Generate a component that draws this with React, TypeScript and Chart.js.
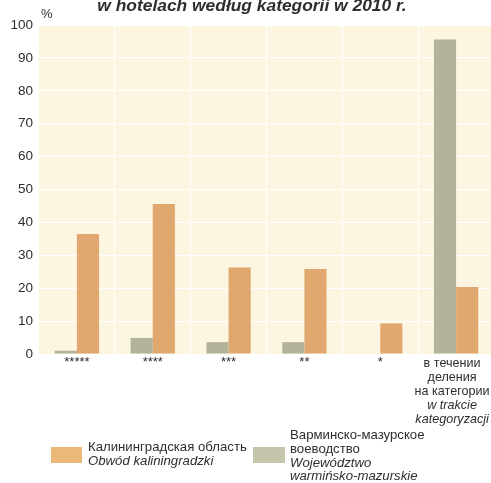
import { useEffect, useRef } from 'react';
import { Chart, registerables } from 'chart.js';

Chart.register(...registerables);

// ---- data ----
const categories: string[][] = [
  ['*****'],
  ['****'],
  ['***'],
  ['**'],
  ['*'],
  ['в течении', 'деления', 'на категории', 'w trakcie', 'kategoryzacji'],
];
const categoryItalicFrom: number[] = [99, 99, 99, 99, 99, 3];
const warmiaValues: number[] = [1.0, 4.9, 3.6, 3.6, 0, 95.6];
const kaliningradValues: number[] = [36.5, 45.6, 26.3, 25.8, 9.3, 20.4];
const kaliningradName: string[] = ['Калининградская область', 'Obwód kaliningradzki'];
const kaliningradItalicFrom = 1;
const warmiaName: string[] = ['Варминско-мазурское', 'воеводство', 'Województwo', 'warmińsko-mazurskie'];
const warmiaItalicFrom = 2;
const titleText = 'w hotelach według kategorii w 2010 r.';
const unitLabel = '%';
const yMin = 0;
const yMax = 100;
const yStep = 10;

// ---- styles ----
const FONT = '"Liberation Sans", Arial, sans-serif';
const TEXT = '#2e2e2e';
const ORANGE = '#e0a86e';
const GREY = '#b3b399';
const ORANGE_SW = '#ebb877';
const GREY_SW = '#c5c5ab';
const CREAM = '#fcf5e0';
const W = 494;
const H = 483;

export default function App() {
  const ref = useRef<HTMLCanvasElement | null>(null);

  useEffect(() => {
    if (!ref.current) return;
    const deco = {
      id: 'deco',
      beforeDraw(chart: any) {
        const { ctx, chartArea } = chart;
        ctx.save();
        ctx.fillStyle = CREAM;
        ctx.fillRect(chartArea.left, chartArea.top, chartArea.right - chartArea.left, chartArea.bottom - chartArea.top);
        ctx.restore();
      },
      afterDraw(chart: any) {
        const { ctx } = chart;
        const xs = chart.scales.x;
        ctx.save();
        ctx.fillStyle = TEXT;
        // title (partly cut by top edge)
        ctx.font = `italic bold 17.4px ${FONT}`;
        ctx.textAlign = 'center';
        ctx.textBaseline = 'alphabetic';
        ctx.fillText(titleText, 252, 11);
        // unit
        ctx.font = `13px ${FONT}`;
        ctx.textAlign = 'left';
        ctx.fillText(unitLabel, 41, 18);
        // multi-line category labels
        ctx.textAlign = 'center';
        categories.forEach((lines, i) => {
          if (lines.length < 2) return;
          const cx = xs.getPixelForValue(i) - 4;
          lines.forEach((ln, j) => {
            ctx.font = `${j >= categoryItalicFrom[i] ? 'italic ' : ''}12.6px ${FONT}`;
            ctx.fillText(ln, cx, 366.7 + j * 14.15);
          });
        });
        // legend
        ctx.textAlign = 'left';
        ctx.fillStyle = ORANGE_SW;
        ctx.fillRect(51, 447, 31, 16);
        ctx.fillStyle = GREY_SW;
        ctx.fillRect(253, 447, 32, 16);
        ctx.fillStyle = TEXT;
        kaliningradName.forEach((ln, j) => {
          ctx.font = `${j >= kaliningradItalicFrom ? 'italic ' : ''}13.2px ${FONT}`;
          ctx.fillText(ln, 88, 451 + j * 14);
        });
        warmiaName.forEach((ln, j) => {
          ctx.font = `${j >= warmiaItalicFrom ? 'italic ' : ''}13.2px ${FONT}`;
          ctx.fillText(ln, 290, 439 + j * 13.8);
        });
        ctx.restore();
      },
    };

    const chart = new Chart(ref.current, {
      type: 'bar',
      data: {
        labels: categories.map((c) => c.join(' ')),
        datasets: [
          {
            label: warmiaName.join(' '),
            data: warmiaValues,
            backgroundColor: GREY,
            borderWidth: 0,
            barPercentage: 1,
            categoryPercentage: 0.584,
          },
          {
            label: kaliningradName.join(' '),
            data: kaliningradValues,
            backgroundColor: ORANGE,
            borderWidth: 0,
            barPercentage: 1,
            categoryPercentage: 0.584,
          },
        ],
      },
      options: {
        responsive: false,
        animation: false,
        layout: { padding: { top: 25, left: 0, right: 0, bottom: 0 } },
        plugins: { legend: { display: false }, tooltip: { enabled: false }, title: { display: false } },
        scales: {
          x: {
            offset: true,
            grid: { color: '#ffffff', lineWidth: 1, drawTicks: false, offset: true },
            border: { display: false },
            ticks: {
              autoSkip: false,
              maxRotation: 0,
              padding: 1,
              color: TEXT,
              font: { family: FONT, size: 13 },
              callback: (_v: any, i: number) => (categories[i].length > 1 ? '' : categories[i][0]),
            },
            afterFit: (s: any) => {
              s.height = 129;
            },
          },
          y: {
            min: yMin,
            max: yMax,
            grid: { color: '#ffffff', lineWidth: 1, drawTicks: false },
            border: { display: false },
            ticks: { stepSize: yStep, padding: 6, color: TEXT, font: { family: FONT, size: 13.5 } },
            afterFit: (s: any) => {
              s.width = 39;
            },
          },
        },
      },
      plugins: [deco],
    });
    return () => chart.destroy();
  }, []);

  return (
    <div style={{ position: 'absolute', left: 0, top: 0, width: 491, height: H, overflow: 'hidden', background: '#fff' }}>
      <canvas ref={ref} width={W} height={H} style={{ width: W, height: H, display: 'block' }} />
    </div>
  );
}
